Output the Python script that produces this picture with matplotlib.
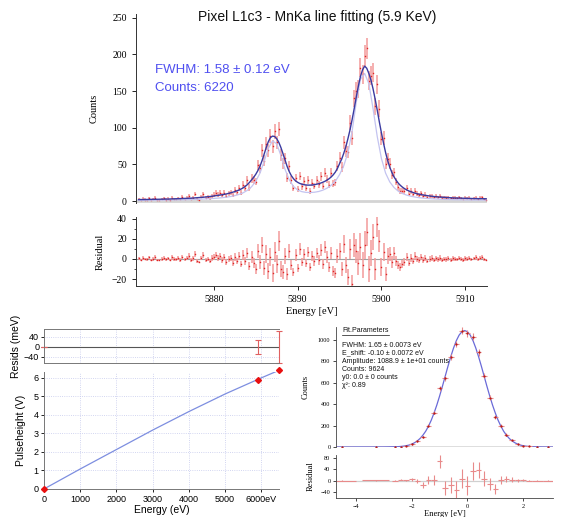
import numpy as np
import matplotlib.pyplot as plt

SERIF = ['Liberation Serif', 'DejaVu Serif']
SANS = ['Liberation Sans', 'DejaVu Sans']

# ---- top: MnKa spectrum, bins of 0.25 eV from 5871 eV ----
e_start = 5871.0
e_step = 0.25
fit_counts = [
    2.0, 2.0, 2.1, 2.1, 2.2, 2.2, 2.3, 2.3, 2.4, 2.4, 2.5, 2.5, 2.6, 2.6, 2.7, 2.8, 2.9, 3.0, 3.0, 3.1,
    3.3, 3.4, 3.5, 3.6, 3.8, 3.9, 4.1, 4.3, 4.5, 4.7, 5.0, 5.2, 5.5, 5.8, 6.1, 6.5,
    6.9, 7.3, 7.7, 8.1, 8.6, 9.1, 9.7, 10.4, 11.2, 12.0, 12.9, 13.9,
    15.0, 16.4, 18.0, 20.0, 22.5, 25.4, 28.8, 32.4,
    36.5, 41.5, 47.5, 55, 64, 73, 81, 86.5,
    88.5, 88, 85, 80, 73, 64.5, 55.5, 47,
    40, 34.5, 30.5, 27.5, 25.5, 24, 23, 22.3,
    21.9, 21.7, 21.7, 21.9, 22.3, 22.9, 23.6, 24.5,
    25.6, 26.9, 28.5, 30.4, 32.8, 35.8, 39.5, 44.5,
    51, 57, 65, 74, 85, 97, 111, 126,
    142, 157, 170, 179, 184, 181, 174, 165,
    153, 139, 124, 108, 93, 79, 66, 55,
    46, 39, 33, 28.5, 24.5, 21.5, 19, 17,
    15.3, 13.9, 12.7, 11.7, 10.8, 10.0, 9.3, 8.7,
    8.2, 7.7, 7.3, 6.9, 6.5, 6.2, 5.9, 5.6,
    5.4, 5.2, 5.0, 4.8, 4.6, 4.5, 4.3, 4.2,
    4.1, 4.0, 3.9, 3.8, 3.7, 3.6, 3.5, 3.5,
    3.4, 3.3, 3.3, 3.2, 3.2, 3.1, 3.1,
]
residual = [
    0.5, -1, 1, 0, -0.5, 1.5, -1, 0, 2, -1, -1.5, 0, 1, -0.5, 0.5, -1, 1.5, 0, -0.5, 1,
    -1, 2, -0.5, 1, 3, -1, 0.5, 5, -2, -3, 1, 4, -1, 0, -2, 1,
    2, 4, 1, 3, -1, 2, -3, 0, 1, -4, 2, -2,
    3, -5, 4, -2, 6, -7, 2, -4,
    -10, 8, -3, 14, -9, 5, -12, 2,
    -14, 7, -5, 18, -10, -13, 3, -15,
    8, -6, -13, 4, -9, 10, -3, 5,
    -4, 7, -8, 3, -2, 6, -1, 9,
    -5, 12, 2, -8, 6, -12, -14, 3,
    8, -10, 15, -6, -18, 10, -25, 14,
    8, -4, 12, -6, 14, 27, -10, 6,
    22, -10, 35, 18, -8, 7, -15, 3,
    5, -3, 6, -2, -6, -8, -5, -3,
    2, -4, 1, -2, 3, 0, -1, 2,
    -1, 1, -2, 0, 1, -1, 0.5, -0.5,
    1, -1, 0, -0.5, 0.5, -1, 0.5, 0,
    -0.5, 1, 0, -1, 0.5, 0, 1, -0.5,
    0.5, 1.5, -0.5, 1, 2, -0.5, -1,
]
# intrinsic line shape, 0.5 eV steps from 5871 eV
line_step = 0.5
line_counts = [
    1.0, 1.0, 1.1, 1.1, 1.2, 1.2, 1.3, 1.4, 1.5, 1.6, 1.7, 1.8, 2.0, 2.2, 2.4, 2.6, 2.9, 3.2,
    3.6, 4.0, 4.6, 5.3, 6.2, 7.4, 9.0, 11.3, 14.6, 19.5,
    27, 38, 54, 72, 82, 78, 62, 43, 29, 20,
    15, 12.8, 11.8, 11.6, 12.0, 13.0, 14.8, 17.5, 21.5, 27,
    36, 48, 66, 95, 135, 166, 174, 160, 126, 88,
    58, 38, 26, 18.5, 13.5, 10.3, 8.1, 6.6, 5.5, 4.6,
    4.0, 3.5, 3.1, 2.8, 2.5, 2.3, 2.1, 1.9, 1.8, 1.7,
    1.6, 1.5, 1.4, 1.4, 1.3, 1.3,
]

# ---- bottom left: gain calibration ----
cal_energy = [0, 5899, 6490]
cal_pulse = [0, 5.9, 6.41]
cal_resid = [0, 0, 0]
cal_resid_err = [0, 27, 64]
gain_energy = [0, 1000, 2000, 3000, 4000, 5000, 6000, 6490]
gain_pulse = [0, 1.08, 2.13, 3.18, 4.18, 5.13, 6.0, 6.41]
cal_ticks = [0, 1000, 2000, 3000, 4000, 5000, 6000]
cal_ticklabels = ['0', '1000', '2000', '3000', '4000', '5000', '6000eV']

# ---- bottom right: stacked line fit ----
br_x = [-4.5, -3.3, -2.6, -2.4, -2.2, -2.0, -1.8, -1.6, -1.4, -1.2, -1.0, -0.8, -0.6, -0.4, -0.2,
        0.0, 0.2, 0.4, 0.6, 0.8, 1.0, 1.2, 1.4, 1.6, 1.8, 2.0, 2.2, 2.5, 2.9]
br_xerr = [0.5, 0.5, 0.1, 0.1, 0.1, 0.1, 0.1, 0.1, 0.1, 0.1, 0.1, 0.1, 0.1, 0.1, 0.1,
           0.1, 0.1, 0.1, 0.1, 0.1, 0.1, 0.1, 0.1, 0.1, 0.1, 0.1, 0.1, 0.2, 0.2]
br_counts = [0, 1, 2, 4, 9, 25, 56, 94, 197, 322, 550, 640, 837, 962, 1087,
             1062, 1031, 884, 666, 462, 281, 197, 116, 62, 25, 12, 6, 2, 1]
br_resid = [0, 1, 0, 3, 1, 5, -2, -15, 4, 4, 68, -25, -15, -33, 7,
            -17, 34, 38, 7, -11, -29, 4, 5, 4, 1, 1, 0, 0, 0]
br_fit_x = [-4.72, -3.0] + [round(-2.5 + 0.1 * i, 1) for i in range(49)] + [2.7, 3.07]
br_fit_y = [0, 0.5,
            3, 5, 8, 12, 18, 27, 40, 57, 80, 110, 147, 194, 250, 317, 392, 476, 566, 660, 754, 843,
            924, 993, 1045, 1077, 1088, 1077, 1045, 993, 924, 843, 754, 660, 566, 476, 392, 317,
            250, 194, 147, 110, 80, 57, 40, 27, 18, 12, 8, 5, 3,
            0.5, 0]
fit_text = ['FWHM: 1.65 \u00b1 0.0073 eV', 'E_shift: -0.10 \u00b1 0.0072 eV',
            'Amplitude: 1088.9 \u00b1 1e+01 counts', 'Counts: 9624',
            'y0: 0.0 \u00b1 0 counts', '\u03c7\u00b2: 0.89']

fig = plt.figure(figsize=(5.75, 5.17), dpi=100)

# ======== top spectrum ========
energy = e_start + e_step * np.arange(len(fit_counts))
fit = np.array(fit_counts)
counts = fit + np.array(residual)
err = np.sqrt(np.clip(counts, 1, None))
line_e = e_start + line_step * np.arange(len(line_counts))

ax1 = fig.add_axes([0.2365, 0.6083, 0.6104, 0.3646])
ax1.axhline(0, color='#d4d4d4', lw=2.0, zorder=1)
ax1.errorbar(energy, counts, yerr=err, fmt='none', ecolor='#f39a9a', elinewidth=1.1, zorder=2)
ax1.plot(energy, counts, ls='none', marker='s', ms=1.0, mew=0, color='#e02424', zorder=3)
ax1.plot(line_e, line_counts, color='#c4c4f0', lw=0.9, zorder=4)
ax1.plot(energy, fit, color='#3a3aa0', lw=1.0, zorder=5)
ax1.set_xlim(5870.7, 5912.6)
ax1.set_ylim(-2, 255)
ax1.set_yticks([0, 50, 100, 150, 200, 250])
ax1.set_xticks([])
for s in ['top', 'right', 'bottom']:
    ax1.spines[s].set_visible(False)
ax1.spines['left'].set_color('#333333')
ax1.spines['left'].set_linewidth(0.7)
ax1.tick_params(axis='y', direction='out', length=3, width=0.6, labelsize=7)
for t in ax1.get_yticklabels():
    t.set_family(SERIF)
ax1.set_ylabel('Counts', family=SERIF, fontsize=7.5, labelpad=10)
ax1.text(0.516, 0.984, 'Pixel L1c3 - MnKa line fitting (5.9 KeV)', transform=ax1.transAxes,
         ha='center', va='center', fontsize=10, family=SANS, color='#111111')
ax1.text(0.054, 0.705, 'FWHM: 1.58 \u00b1 0.12 eV', transform=ax1.transAxes,
         ha='left', va='center', fontsize=9.5, family=SANS, color='#4f4ff0')
ax1.text(0.054, 0.610, 'Counts: 6220', transform=ax1.transAxes,
         ha='left', va='center', fontsize=9.5, family=SANS, color='#4f4ff0')

ax2 = fig.add_axes([0.2365, 0.4468, 0.6104, 0.1335])
ax2.axhline(0, color='#a0a0a0', lw=0.8, zorder=1)
ax2.errorbar(energy, residual, yerr=err, fmt='none', ecolor='#f39a9a', elinewidth=1.1, zorder=2)
ax2.plot(energy, residual, ls='none', marker='s', ms=1.0, mew=0, color='#e02424', zorder=3)
ax2.set_xlim(5870.7, 5912.6)
ax2.set_ylim(-27, 42)
ax2.set_yticks([-20, 0, 20, 40])
ax2.set_yticks([-10, 10, 30], minor=True)
ax2.set_xticks([5880, 5890, 5900, 5910])
for s in ['top', 'right']:
    ax2.spines[s].set_visible(False)
for s in ['left', 'bottom']:
    ax2.spines[s].set_color('#333333')
    ax2.spines[s].set_linewidth(0.7)
ax2.tick_params(direction='out', length=3, width=0.6, labelsize=7)
ax2.tick_params(which='minor', direction='out', length=1.5, width=0.5)
for t in ax2.get_yticklabels() + ax2.get_xticklabels():
    t.set_family(SERIF)
ax2.set_ylabel('Residual', family=SERIF, fontsize=7.5, labelpad=5)
ax2.set_xlabel('Energy [eV]', family=SERIF, fontsize=7.5, labelpad=2)

# ======== bottom left: calibration ========
grid_kw = dict(color='#c4c8ec', lw=0.6, ls=':')
ax3 = fig.add_axes([0.0765, 0.2979, 0.4087, 0.0658])
ax3.axhline(0, color='#555555', lw=0.8)
ax3.errorbar(cal_energy, cal_resid, yerr=cal_resid_err, fmt='none', ecolor='#e06060',
             elinewidth=0.8, capsize=2, capthick=0.8, clip_on=False)
ax3.set_xlim(0, 6490)
ax3.set_ylim(-64, 72)
ax3.set_yticks([-40, 0, 40])
ax3.set_xticks(cal_ticks)
ax3.tick_params(axis='x', length=0, labelbottom=False)
ax3.tick_params(axis='y', direction='out', length=2.5, width=0.6, labelsize=6.5, pad=1)
ax3.grid(True, **grid_kw)
for s in ax3.spines.values():
    s.set_color('#777777')
    s.set_linewidth(0.7)
ax3.spines['right'].set_visible(False)
for t in ax3.get_yticklabels():
    t.set_family(SANS)
ax3.set_ylabel('Resids (meV)', family=SANS, fontsize=7.5, labelpad=2)

ax4 = fig.add_axes([0.0765, 0.0542, 0.4087, 0.2263])
ax4.plot(gain_energy, gain_pulse, color='#7d8ee0', lw=0.9)
ax4.plot(cal_energy, cal_pulse, ls='none', marker='D', ms=3, color='#e81010', clip_on=False, zorder=5)
ax4.set_xlim(0, 6490)
ax4.set_ylim(0, 6.32)
ax4.set_yticks(range(0, 7))
ax4.set_xticks(cal_ticks, cal_ticklabels)
ax4.grid(True, **grid_kw)
for s in ['top', 'right']:
    ax4.spines[s].set_visible(False)
for s in ['left', 'bottom']:
    ax4.spines[s].set_color('#777777')
    ax4.spines[s].set_linewidth(0.7)
ax4.tick_params(direction='out', length=2.5, width=0.6, labelsize=6.5, pad=1.5)
for t in ax4.get_yticklabels() + ax4.get_xticklabels():
    t.set_family(SANS)
ax4.set_ylabel('Pulseheight (V)', family=SANS, fontsize=7.5, labelpad=5)
ax4.set_xlabel('Energy (eV)', family=SANS, fontsize=7.5, labelpad=1)

# ======== bottom right: stacked fit ========
br_err = np.sqrt(np.clip(br_counts, 1, None))
ax5 = fig.add_axes([0.5843, 0.1354, 0.3774, 0.2321])
ax5.axhline(0, color='#d8d8d8', lw=1.2, zorder=1)
ax5.plot(br_fit_x, br_fit_y, color='#6a6ad8', lw=0.9, zorder=2)
ax5.errorbar(br_x, br_counts, xerr=br_xerr, yerr=br_err, fmt='none', ecolor='#e88a8a',
             elinewidth=0.8, zorder=3)
ax5.plot(br_x, br_counts, ls='none', marker='.', ms=1.2, color='#b01010', zorder=4)
ax5.set_xlim(-4.72, 3.07)
ax5.set_ylim(0, 1121)
ax5.set_yticks([0, 200, 400, 600, 800, 1000])
ax5.set_xticks([])
for s in ['top', 'right', 'bottom']:
    ax5.spines[s].set_visible(False)
ax5.spines['left'].set_color('#444444')
ax5.spines['left'].set_linewidth(0.6)
ax5.tick_params(axis='y', direction='out', length=2.5, width=0.5, labelsize=4.5, pad=1.5)
for t in ax5.get_yticklabels():
    t.set_family(SERIF)
ax5.set_ylabel('Counts', family=SERIF, fontsize=6, labelpad=6)
ax5.text(0.028, 0.97, 'Fit.Parameters', transform=ax5.transAxes, ha='left', va='center',
         fontsize=5, family=SANS, color='#111111')
ax5.plot([0.028, 0.245], [0.935, 0.935], transform=ax5.transAxes, color='#111111', lw=0.5)
for i, line in enumerate(fit_text):
    ax5.text(0.028, 0.85 - i * 0.068, line, transform=ax5.transAxes, ha='left', va='center',
             fontsize=5, family=SANS, color='#111111')

ax6 = fig.add_axes([0.5843, 0.0368, 0.3774, 0.0832])
ax6.axhline(0, color='#d0d0d0', lw=0.9, zorder=1)
ax6.errorbar(br_x, br_resid, xerr=br_xerr, yerr=br_err, fmt='none', ecolor='#e88a8a',
             elinewidth=0.8, zorder=2)
ax6.set_xlim(-4.72, 3.07)
ax6.set_ylim(-61, 91)
ax6.set_yticks([-40, 0, 40, 80])
ax6.set_xticks([-4, -2, 0, 2])
for s in ['top', 'right']:
    ax6.spines[s].set_visible(False)
for s in ['left', 'bottom']:
    ax6.spines[s].set_color('#444444')
    ax6.spines[s].set_linewidth(0.6)
ax6.tick_params(direction='out', length=2.5, width=0.5, labelsize=4.5, pad=1.5)
for t in ax6.get_yticklabels() + ax6.get_xticklabels():
    t.set_family(SERIF)
ax6.set_ylabel('Residual', family=SERIF, fontsize=6, labelpad=4)
ax6.set_xlabel('Energy [eV]', family=SERIF, fontsize=6, labelpad=1)

fig.savefig('out.png', dpi=100)
